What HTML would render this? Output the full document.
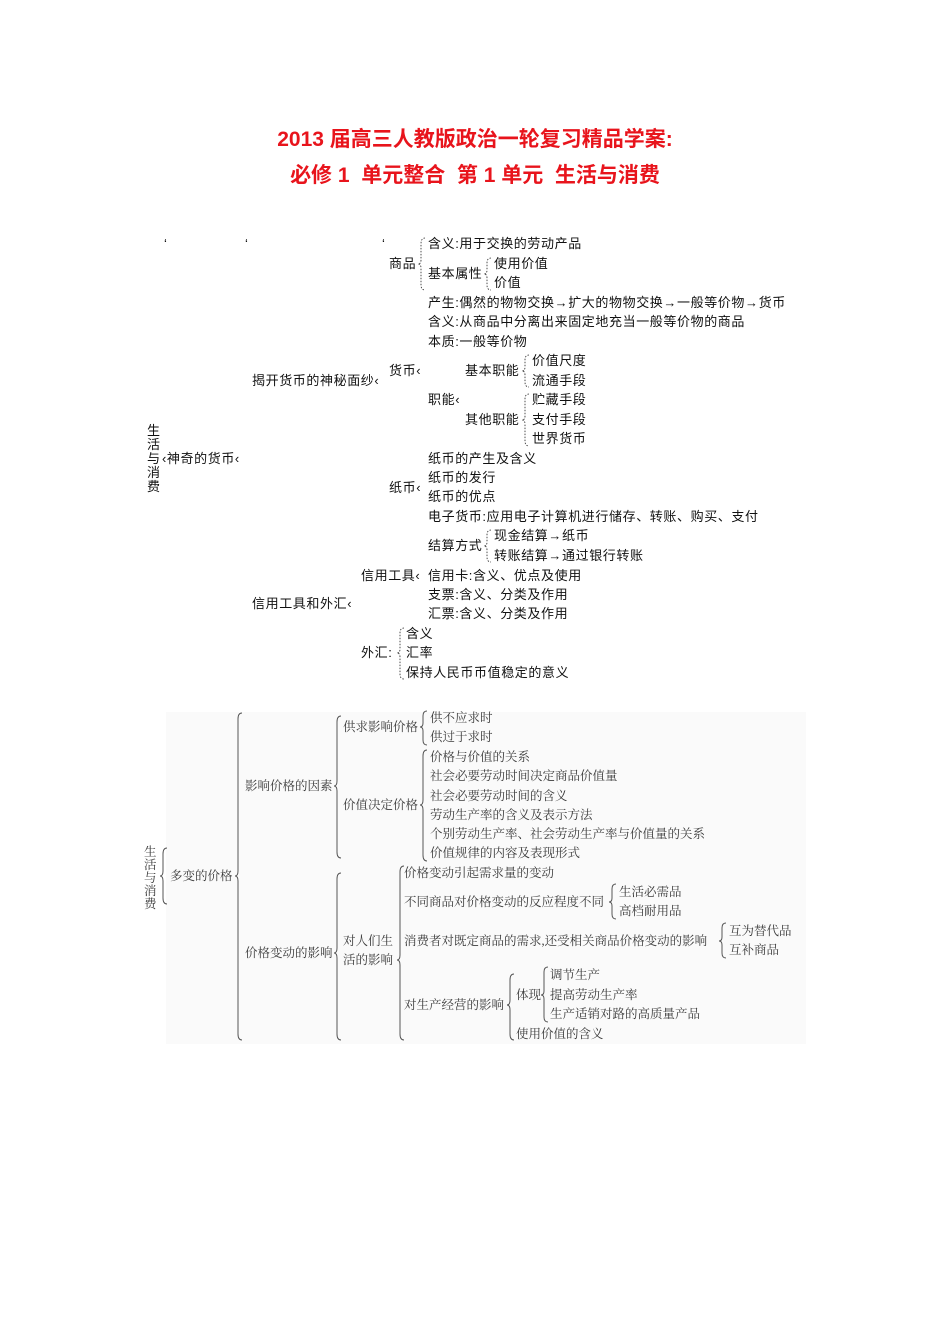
<!DOCTYPE html>
<html><head><meta charset="utf-8">
<style>
html,body{margin:0;padding:0;background:#fff;}
body{width:950px;height:1344px;position:relative;overflow:hidden;font-family:"Liberation Sans","Noto Sans CJK SC",sans-serif;}
.t{position:absolute;white-space:nowrap;font-size:13px;letter-spacing:0.6px;line-height:16px;color:#111;}
.g{position:absolute;white-space:nowrap;font-size:12.5px;line-height:16px;color:#3a3a3a;font-family:"Liberation Serif","Noto Serif CJK SC",serif;}
.h{position:absolute;left:0;width:950px;text-align:center;color:#e8141c;font-weight:bold;font-size:21px;font-family:"Liberation Sans","Noto Sans CJK SC",sans-serif;}
</style></head><body>
<div class="h" style="top:123px;">2013 届高三人教版政治一轮复习精品学案:</div>
<div class="h" style="top:159px;">必修 1&nbsp; 单元整合&nbsp; 第 1 单元&nbsp; 生活与消费</div>

<div style="position:absolute;left:166px;top:712px;width:640px;height:332px;background:#fafafa;"></div>

<svg style="position:absolute;left:0;top:0" width="950" height="1344">
<g fill="none" stroke="#222" stroke-width="0.8" stroke-dasharray="1.5 1.5">
<path d="M425 238 Q421 238 421 244 L421 260 Q421 264 418 264 Q421 264 421 268 L421 285 Q421 290 425 290"/>
<path d="M491 258 Q487 258 487 263 L487 270 Q487 274 484 274 Q487 274 487 278 L487 285 Q487 290 491 290"/>
<path d="M529 355 Q525 355 525 360 L525 367 Q525 371 522 371 Q525 371 525 375 L525 382 Q525 387 529 387"/>
<path d="M529 394 Q525 394 525 399 L525 416 Q525 420 522 420 Q525 420 525 424 L525 441 Q525 446 529 446"/>
<path d="M491 530 Q487 530 487 535 L487 542 Q487 546 484 546 Q487 546 487 550 L487 557 Q487 562 491 562"/>
<path d="M404 628 Q400 628 400 633 L400 649 Q400 653 397 653 Q400 653 400 657 L400 674 Q400 679 404 679"/>
</g>
<g fill="none" stroke="#555" stroke-width="1">
<path d="M167 848 Q163 848 163 854 L163 871 Q163 876 160 876 Q163 876 163 881 L163 898 Q163 904 167 904"/>
<path d="M242 713 Q238 713 238 719 L238 871 Q238 876 235 876 Q238 876 238 881 L238 1034 Q238 1040 242 1040"/>
<path d="M341 716 Q337 716 337 722 L337 781 Q337 786 334 786 Q337 786 337 791 L337 852 Q337 858 341 858"/>
<path d="M427 711 Q423 711 423 716 L423 723 Q423 727 420 727 Q423 727 423 731 L423 740 Q423 745 427 745"/>
<path d="M427 750 Q423 750 423 756 L423 800 Q423 805 420 805 Q423 805 423 810 L423 855 Q423 861 427 861"/>
<path d="M341 873 Q337 873 337 879 L337 948 Q337 953 334 953 Q337 953 337 958 L337 1034 Q337 1040 341 1040"/>
<path d="M404 866 Q400 866 400 872 L400 955 Q400 960 397 960 Q400 960 400 965 L400 1034 Q400 1040 404 1040"/>
<path d="M616 884 Q612 884 612 889 L612 898 Q612 902 609 902 Q612 902 612 906 L612 914 Q612 919 616 919"/>
<path d="M726 923 Q722 923 722 928 L722 937 Q722 941 719 941 Q722 941 722 945 L722 953 Q722 958 726 958"/>
<path d="M514 974 Q510 974 510 980 L510 1000 Q510 1005 507 1005 Q510 1005 510 1010 L510 1034 Q510 1040 514 1040"/>
<path d="M548 967 Q544 967 544 972 L544 991 Q544 995 541 995 Q544 995 544 999 L544 1017 Q544 1022 548 1022"/>
</g>
</svg>

<!-- upper section -->
<div class="t" style="left:164px;top:236px;">&#8216;</div>
<div class="t" style="left:245px;top:236px;">&#8216;</div>
<div class="t" style="left:382px;top:236px;">&#8216;</div>
<div class="t" style="left:389px;top:256px;">商品</div>
<div class="t" style="left:428px;top:236px;">含义:用于交换的劳动产品</div>
<div class="t" style="left:428px;top:266px;">基本属性</div>
<div class="t" style="left:494px;top:256px;">使用价值</div>
<div class="t" style="left:494px;top:275px;">价值</div>
<div class="t" style="left:428px;top:295px;">产生:偶然的物物交换→扩大的物物交换→一般等价物→货币</div>
<div class="t" style="left:428px;top:314px;">含义:从商品中分离出来固定地充当一般等价物的商品</div>
<div class="t" style="left:428px;top:334px;">本质:一般等价物</div>
<div class="t" style="left:389px;top:363px;">货币‹</div>
<div class="t" style="left:252px;top:373px;">揭开货币的神秘面纱‹</div>
<div class="t" style="left:465px;top:363px;">基本职能</div>
<div class="t" style="left:532px;top:353px;">价值尺度</div>
<div class="t" style="left:532px;top:373px;">流通手段</div>
<div class="t" style="left:428px;top:392px;">职能‹</div>
<div class="t" style="left:465px;top:412px;">其他职能</div>
<div class="t" style="left:532px;top:392px;">贮藏手段</div>
<div class="t" style="left:532px;top:412px;">支付手段</div>
<div class="t" style="left:532px;top:431px;">世界货币</div>
<div class="t" style="left:147px;top:424px;width:14px;line-height:14px;white-space:normal;">生活与消费</div>
<div class="t" style="left:162px;top:451px;">‹神奇的货币‹</div>
<div class="t" style="left:428px;top:451px;">纸币的产生及含义</div>
<div class="t" style="left:428px;top:470px;">纸币的发行</div>
<div class="t" style="left:428px;top:489px;">纸币的优点</div>
<div class="t" style="left:389px;top:480px;">纸币‹</div>
<div class="t" style="left:428px;top:509px;">电子货币:应用电子计算机进行储存、转账、购买、支付</div>
<div class="t" style="left:428px;top:538px;">结算方式</div>
<div class="t" style="left:494px;top:528px;">现金结算→纸币</div>
<div class="t" style="left:494px;top:548px;">转账结算→通过银行转账</div>
<div class="t" style="left:361px;top:568px;">信用工具‹</div>
<div class="t" style="left:428px;top:568px;">信用卡:含义、优点及使用</div>
<div class="t" style="left:428px;top:587px;">支票:含义、分类及作用</div>
<div class="t" style="left:428px;top:606px;">汇票:含义、分类及作用</div>
<div class="t" style="left:252px;top:596px;">信用工具和外汇‹</div>
<div class="t" style="left:361px;top:645px;">外汇:</div>
<div class="t" style="left:406px;top:626px;">含义</div>
<div class="t" style="left:406px;top:645px;">汇率</div>
<div class="t" style="left:406px;top:665px;">保持人民币币值稳定的意义</div>

<!-- lower section -->
<div class="g" style="left:144px;top:846px;width:14px;line-height:13px;white-space:normal;">生活与消费</div>
<div class="g" style="left:170px;top:868px;">多变的价格</div>
<div class="g" style="left:245px;top:778px;">影响价格的因素</div>
<div class="g" style="left:343px;top:719px;">供求影响价格</div>
<div class="g" style="left:430px;top:710px;">供不应求时</div>
<div class="g" style="left:430px;top:729px;">供过于求时</div>
<div class="g" style="left:343px;top:797px;">价值决定价格</div>
<div class="g" style="left:430px;top:749px;">价格与价值的关系</div>
<div class="g" style="left:430px;top:768px;">社会必要劳动时间决定商品价值量</div>
<div class="g" style="left:430px;top:788px;">社会必要劳动时间的含义</div>
<div class="g" style="left:430px;top:807px;">劳动生产率的含义及表示方法</div>
<div class="g" style="left:430px;top:826px;">个别劳动生产率、社会劳动生产率与价值量的关系</div>
<div class="g" style="left:430px;top:845px;">价值规律的内容及表现形式</div>
<div class="g" style="left:245px;top:945px;">价格变动的影响</div>
<div class="g" style="left:343px;top:933px;">对人们生</div>
<div class="g" style="left:343px;top:952px;">活的影响</div>
<div class="g" style="left:404px;top:865px;">价格变动引起需求量的变动</div>
<div class="g" style="left:404px;top:894px;">不同商品对价格变动的反应程度不同</div>
<div class="g" style="left:619px;top:884px;">生活必需品</div>
<div class="g" style="left:619px;top:903px;">高档耐用品</div>
<div class="g" style="left:404px;top:933px;">消费者对既定商品的需求,还受相关商品价格变动的影响</div>
<div class="g" style="left:729px;top:923px;">互为替代品</div>
<div class="g" style="left:729px;top:942px;">互补商品</div>
<div class="g" style="left:404px;top:997px;">对生产经营的影响</div>
<div class="g" style="left:516px;top:987px;">体现</div>
<div class="g" style="left:550px;top:967px;">调节生产</div>
<div class="g" style="left:550px;top:987px;">提高劳动生产率</div>
<div class="g" style="left:550px;top:1006px;">生产适销对路的高质量产品</div>
<div class="g" style="left:516px;top:1026px;">使用价值的含义</div>
</body></html>
